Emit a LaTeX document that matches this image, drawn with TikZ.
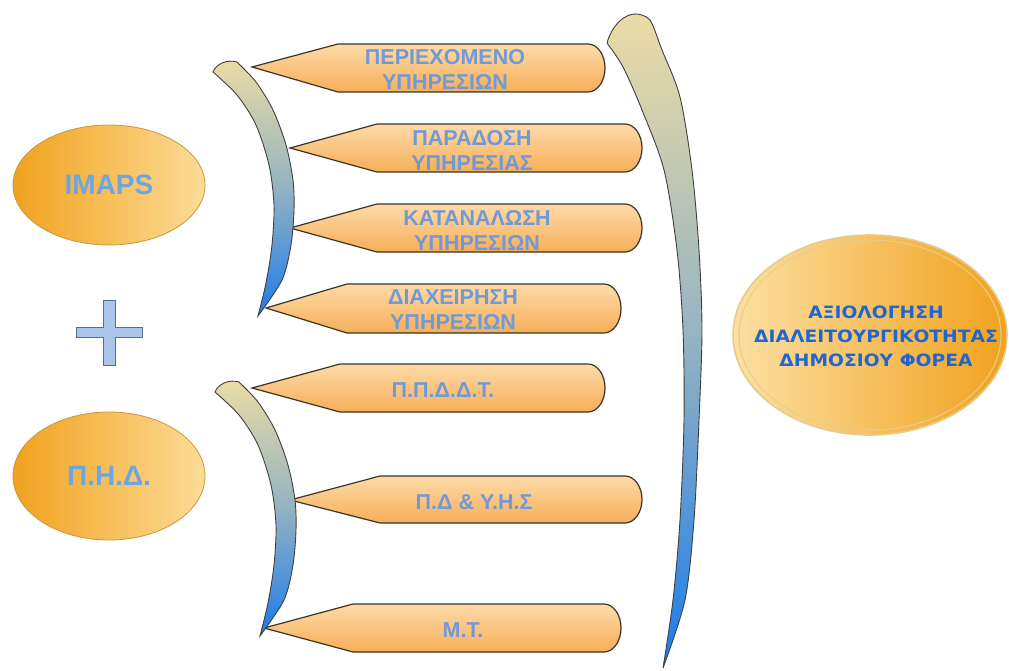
\documentclass[tikz,border=0pt]{standalone}
\usepackage{fontspec}
\setmainfont{Liberation Sans}
\newfontfamily\evalfont[FakeStretch=1.1]{DejaVu Sans}
\usetikzlibrary{shapes.geometric}
\definecolor{cotop}{HTML}{FDDBA8}
\definecolor{cobot}{HTML}{F6AE58}
\definecolor{coline}{HTML}{3B3526}
\definecolor{brtop}{HTML}{EBDCA5}
\definecolor{brmid}{HTML}{94B3C2}
\definecolor{brbot}{HTML}{1B7BEA}
\definecolor{ctxt}{HTML}{7099D6}
\definecolor{etxt}{HTML}{6EA5E2}
\definecolor{vtxt}{HTML}{1F66D0}
\definecolor{eldark}{HTML}{F1A21E}
\definecolor{ellight}{HTML}{FCDC98}
\definecolor{elline}{HTML}{C9963A}
\definecolor{ring}{HTML}{E6CD8F}
\definecolor{plusfill}{HTML}{A9C5EA}
\definecolor{plusline}{HTML}{5A6E8C}
\newcommand\callout[6]{%
  \pgfmathsetmacro\cmid{(#5+#6)/2}%
  \pgfmathsetmacro\ch{(#6-#5)/2*0.5523}%
  \path[calloutbox] (#1,#2) -- (#3,#5) -- ({#4-17},#5)
    .. controls ({#4-7.6},#5) and (#4,{\cmid-\ch}) .. (#4,\cmid)
    .. controls (#4,{\cmid+\ch}) and ({#4-7.6},#6) .. ({#4-17},#6)
    -- (#3,#6) -- cycle;}
\newcommand\leftbracket{%
  \path[bracket] (213,72) .. controls (216,64) and (227,59) .. (237,62)
    -- plot[smooth] coordinates {(237,62) (256,82) (273,110) (286,145) (293,180) (294,210) (291,245) (282,280) (258,316)}
    -- plot[smooth] coordinates {(258,316) (266,283) (272,245) (274,205) (269,165) (256,125) (237,95) (213,72)}
    -- cycle;}
\begin{document}
\begin{tikzpicture}[x=1pt,y=-1pt,
  calloutbox/.style={draw=coline, line width=1.2pt, top color=cotop, bottom color=cobot},
  bracket/.style={draw=black!75, line width=0.9pt, top color=brtop, bottom color=brbot, middle color=brmid},
  ctext/.style={font=\bfseries\fontsize{21.5}{25}\selectfont, text=ctxt, align=center, inner sep=0pt},
  leftell/.style={ellipse, draw=elline, line width=0.8pt, left color=eldark, right color=ellight,
    font=\bfseries\fontsize{28}{32}\selectfont, text=etxt, inner sep=0pt}]
\useasboundingbox (0,0) rectangle (1009,671);

% callouts
\callout{252}{67}{338}{605}{44}{92}
\callout{290}{148}{377}{642}{124}{172}
\callout{290}{228}{377}{642}{204}{252}
\callout{266}{308}{347}{621}{284}{333}
\callout{252}{388}{340}{605}{364}{412}
\callout{290}{500}{380}{642}{476}{523}
\callout{264}{628}{353}{621}{604}{652}

\node[ctext] (c1) at (445,69) {ΠΕΡΙΕΧΟΜΕΝΟ\\ΥΠΗΡΕΣΙΩΝ};
\node[ctext] (c2) at (472,150) {ΠΑΡΑΔΟΣΗ\\ΥΠΗΡΕΣΙΑΣ};
\node[ctext] (c3) at (477,230) {ΚΑΤΑΝΑΛΩΣΗ\\ΥΠΗΡΕΣΙΩΝ};
\node[ctext] (c4) at (453,310) {ΔΙΑΧΕΙΡΗΣΗ\\ΥΠΗΡΕΣΙΩΝ};
\node[ctext] (c5) at (443,390) {Π.Π.Δ.Δ.Τ.};
\node[ctext] (c6) at (474,502) {Π.Δ \& Υ.Η.Σ};
\node[ctext] (c7) at (463,630) {Μ.Τ.};

% brackets
\leftbracket
\begin{scope}[shift={(2,320)}]
\leftbracket
\end{scope}
\path[bracket] (607,43) .. controls (612,25) and (625,13) .. (637,14)
  -- plot[smooth] coordinates {(637,14) (650,20) (662,50) (680,97) (692,170) (699,250) (702,330) (699,420) (694,520) (685,600) (663,668)}
  -- plot[smooth] coordinates {(663,668) (673,600) (680,520) (684,420) (683,330) (677,250) (664,170) (642,110) (623,67) (607,43)}
  -- cycle;

% left ellipses
\node[leftell, minimum width=192pt, minimum height=120pt] (imaps) at (109,185) {IMAPS};
\node[leftell, minimum width=192pt, minimum height=128pt] (phd) at (109,476) {Π.Η.Δ.};

% plus
\path[draw=plusline, fill=plusfill, line width=0.9pt] (103,300) -- (115,300) -- (115,327) -- (142,327) -- (142,337) -- (115,337) -- (115,365) -- (103,365) -- (103,337) -- (76,337) -- (76,327) -- (103,327) -- cycle;

% right ellipse
\node[ellipse, draw=ring, line width=1.6pt, left color=ellight!90!white, right color=eldark,
  minimum width=274pt, minimum height=200pt, inner sep=0pt] (eval) at (870,335) {};
\draw[ring, line width=1pt] (eval.center) ellipse [x radius=131, y radius=95];
\node[font=\evalfont\bfseries\fontsize{17}{24}\selectfont, text=vtxt, align=center, inner sep=0pt] (evaltext) at (876,336)
  {ΑΞΙΟΛΟΓΗΣΗ\\ΔΙΑΛΕΙΤΟΥΡΓΙΚΟΤΗΤΑΣ\\ΔΗΜΟΣΙΟΥ ΦΟΡΕΑ};
\end{tikzpicture}
\end{document}
